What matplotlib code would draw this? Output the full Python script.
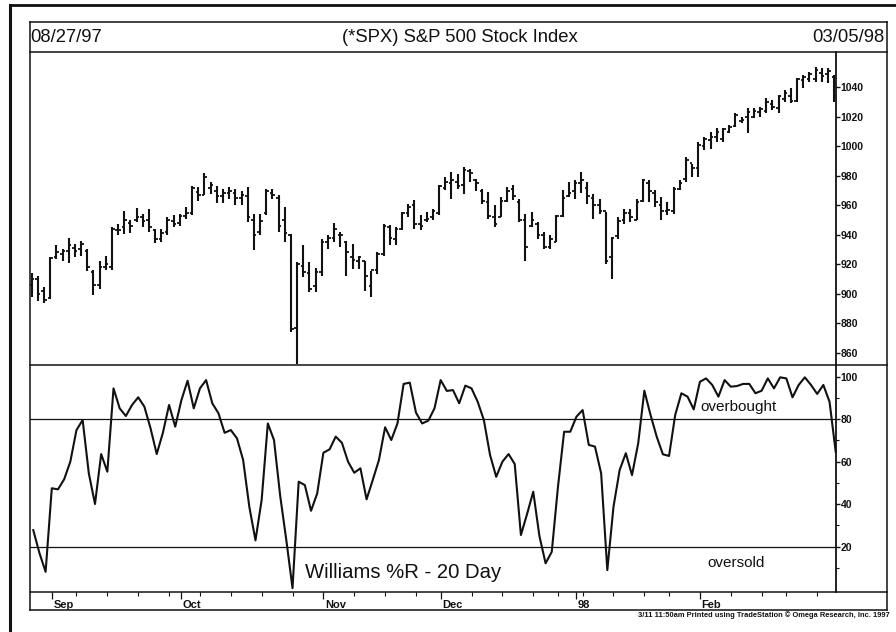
import numpy as np
import pandas as pd
import matplotlib
matplotlib.use("Agg")
import matplotlib.pyplot as plt
from matplotlib.lines import Line2D

plt.rcParams['font.family'] = ['Liberation Sans', 'DejaVu Sans']

# ---- trading calendar -------------------------------------------------------
holidays = ['1997-09-01', '1997-11-27', '1997-12-25',
            '1998-01-01', '1998-01-19', '1998-02-16']
dates = pd.bdate_range('1997-08-27', '1998-03-05', freq='C', holidays=holidays)

# ---- S&P 500 daily bars ------------------------------------------------------
opens = [906, 910, 902, 897, 925, 927, 929, 931, 930, 929,
         915, 906, 918, 918, 943, 945, 948, 950, 952, 950,
         943, 937, 942, 949, 948, 953, 955, 969, 967, 972,
         970, 966, 968, 968, 965, 966, 950, 942, 955, 968,
         965, 950, 940, 877, 919, 914, 905, 915, 935, 938,
         940, 935, 925, 922, 922, 905, 916, 927, 945, 937,
         944, 955, 960, 947, 950, 952, 955, 972, 975, 976,
         974, 983, 977, 970, 962, 952, 952, 963, 971, 962,
         950, 946, 947, 940, 932, 935, 953, 966, 970, 975,
         972, 965, 960, 956, 925, 939, 950, 955, 950, 963,
         975, 968, 960, 956, 956, 971, 978, 989, 985, 1000,
         1004, 1006, 1005, 1010, 1014, 1017, 1020, 1020, 1023, 1024,
         1029, 1026, 1032, 1034, 1031, 1045, 1046, 1046, 1050, 1049,
         1047]
highs = [914, 912.3, 904.3, 924.7, 932.7, 930.4, 938, 933.8, 936, 930.4,
         916.2, 922.5, 925.9, 945.1, 947.5, 956, 950.2, 958.4, 954.3, 957.7,
         944, 944, 952, 953.1, 954.3, 958.8, 973.3, 972.2, 982, 975.8,
         973.4, 971.2, 972.2, 971.2, 970, 972.2, 954.3, 954.3, 971.2, 971.2,
         966.7, 958.8, 940.6, 921.3, 932.7, 921.3, 917.5, 937.2, 939.5, 947.9,
         941.7, 936, 933.8, 925.9, 922.5, 915.7, 928.2, 947.5, 946.3, 945.1,
         955.3, 961, 963.3, 953.1, 955.3, 957.7, 973.5, 979.2, 982.6, 981.5,
         986, 984.9, 978, 971.3, 969, 960, 965.6, 972.4, 973.5, 964.5,
         954.3, 955.3, 948.6, 941.7, 939.5, 953.1, 970.1, 975.8, 977, 982.6,
         975.8, 967.9, 964.5, 955.3, 938.3, 952, 957.7, 957.7, 964.5, 978.1,
         977, 970.1, 965.6, 962.2, 972.4, 977, 992.8, 988.3, 1003, 1006.4,
         1009.8, 1012.1, 1012.1, 1014.4, 1022.3, 1020, 1025.7, 1025.7, 1026.8, 1032.5,
         1031.4, 1034.8, 1038.2, 1039.3, 1046.1, 1048.4, 1050.6, 1054, 1052.9, 1052.9,
         1048.4]
lows = [898, 895.3, 893.4, 896.4, 923.6, 922.5, 920.6, 925.2, 925.9, 915.7,
        899.3, 903.2, 916.2, 916.2, 939.5, 940.6, 941, 948.6, 945.2, 941.8,
        934.3, 934.9, 939.5, 945.2, 945.6, 950.9, 953.1, 963.1, 966.7, 967.9,
        961.2, 961.2, 964.3, 960.1, 960.1, 948.8, 929.3, 939.5, 953.1, 964.3,
        941.8, 935, 873.7, 852.2, 911.1, 900.9, 900.9, 912.3, 930.4, 934.9,
        931.5, 912.3, 916.8, 916.8, 902.1, 897.5, 913.4, 925.9, 932.7, 932.7,
        942.9, 952, 944, 942.9, 948.5, 949.7, 953.1, 970.1, 964.5, 971.3,
        967.9, 975.7, 970, 961, 950.9, 945.2, 952, 962.2, 963.3, 948.6,
        922.5, 945.2, 937.2, 930.4, 930.4, 934.9, 952, 965.6, 964.5, 968,
        961, 951, 954.3, 920.2, 910, 937.2, 947.5, 948.6, 949.7, 962.2,
        962.2, 958.8, 949.7, 953.1, 954.3, 970.1, 975.8, 979.2, 979.2, 997.3,
        998.5, 1003, 1003, 1008.7, 1013.2, 1015.5, 1008.7, 1018.9, 1020, 1022.3,
        1024.6, 1022.3, 1030.2, 1029.1, 1030.2, 1039.3, 1043.8, 1043.8, 1043.8, 1042.7,
        1030.2]
closes = [910, 900, 896, 924, 928, 929, 933, 929, 934, 918,
          906, 918, 920, 944, 943, 950, 946, 952, 949, 945,
          937, 941, 950, 947, 953, 955, 972, 967, 979, 974,
          966, 968, 970, 965, 967, 952, 940, 949, 970, 967,
          946, 941, 876, 920, 915, 903, 915, 935, 938, 944,
          940, 928, 923, 925, 912, 916, 927, 946, 938, 944,
          955, 959, 947, 946, 951, 956, 973, 976, 977, 973,
          984, 982, 975, 963, 953, 947, 963, 970, 966, 950,
          932, 950, 940, 932, 937, 953, 965, 968, 975, 977,
          966, 960, 956, 922, 938, 949, 955, 952, 962, 977,
          970, 962, 956, 957, 971, 975, 991, 985, 1001, 1005,
          1006, 1010, 1012, 1013, 1021, 1018, 1023, 1024, 1025, 1030,
          1027, 1034, 1036, 1031, 1046, 1047, 1049, 1052, 1048, 1051,
          1034]

# ---- Williams %R (20 day) ----------------------------------------------------
williams_r = [27.8, 17, 8.2, 47.5, 47, 51.7, 60, 74.9, 79.6, 54.5,
              40.1, 63.6, 55.3, 94.5, 85.1, 81.5, 86.7, 90.3, 85.9, 75.7,
              63.6, 73.6, 86.7, 76.5, 89, 98.1, 85.1, 94.5, 98.4, 87.5,
              82.8, 73.6, 74.9, 71, 60.8, 38.8, 23, 42, 78, 70.2,
              44, 23, 0.5, 50.6, 49, 36.9, 45.1, 64.2, 65.8, 71.8,
              68.9, 60, 54.8, 56.9, 42.3, 51.4, 60.8, 76.2, 70.2, 78,
              96.6, 97.2, 83.1, 78, 79.3, 85.1, 98.4, 93.3, 93.7, 87.5,
              95.8, 94.5, 88.2, 79.6, 63.2, 52.9, 60, 63.6, 58.9, 25.5,
              35.4, 45.9, 25, 12.2, 17.6, 48, 74.1, 74.1, 81.2, 84.3,
              67.9, 67.1, 54.5, 9, 38.8, 56.1, 64, 53.7, 68.6, 93.4,
              82, 71.8, 63.5, 62.7, 82, 92.2, 90.6, 84.6, 97.6, 99.2,
              96.1, 90.6, 98.4, 95.3, 95.6, 96.6, 96.6, 92.2, 93.4, 99.2,
              94.5, 99.7, 99.2, 90.3, 96.1, 99.7, 96.1, 91.9, 96.1, 88.2,
              64.7]

overbought_level = 80
oversold_level = 20
price_ticks = [860, 880, 900, 920, 940, 960, 980, 1000, 1020, 1040]
wr_ticks = [20, 40, 60, 80, 100]
wr_minor_ticks = [10, 30, 50, 70, 90]
month_labels = {9: 'Sep', 10: 'Oct', 11: 'Nov', 12: 'Dec', 1: '98', 2: 'Feb'}

x = np.arange(len(dates))

# ---- figure / layout (pixel based) ------------------------------------------
W, H = 896, 632
fig = plt.figure(figsize=(W / 100, H / 100), dpi=100)
fig.patch.set_facecolor('white')


def fx(px):
    return px / W


def fy(py):
    return 1 - py / H


L, R = 30, 835.7
T_TITLE, T_PRICE, T_WR, T_DATE, B_DATE = 22, 52, 365, 592, 610
FRAME_R = 887

ax_p = fig.add_axes([fx(L), fy(T_WR), fx(R) - fx(L), fy(T_PRICE) - fy(T_WR)])
ax_w = fig.add_axes([fx(L), fy(T_DATE), fx(R) - fx(L), fy(T_WR) - fy(T_DATE)])
ax_d = fig.add_axes([fx(L), fy(B_DATE), fx(R) - fx(L), fy(T_DATE) - fy(B_DATE)])

for ax in (ax_p, ax_w, ax_d):
    for s in ax.spines.values():
        s.set_visible(False)
    ax.set_facecolor('none')
    ax.set_xticks([])

# ---- price bars --------------------------------------------------------------
ink = '#111111'
tick_len = 0.42
ax_p.vlines(x, lows, highs, color=ink, lw=1.5)
ax_p.hlines(opens, x - tick_len, x, color=ink, lw=1.3)
ax_p.hlines(closes, x, x + tick_len, color=ink, lw=1.3)
ax_p.set_xlim(-0.27, 130.26)
ax_p.set_ylim(851.6, 1064)
ax_p.yaxis.tick_right()
ax_p.set_yticks(price_ticks)
ax_p.set_yticklabels([str(v) for v in price_ticks], fontsize=7.5, fontweight='bold')
ax_p.tick_params(axis='y', direction='out', length=3, width=1, pad=0.5, colors=ink)

# ---- Williams %R -------------------------------------------------------------
ax_w.plot(x, williams_r, color=ink, lw=1.5, clip_on=False)
ax_w.axhline(overbought_level, color=ink, lw=0.9)
ax_w.axhline(oversold_level, color=ink, lw=0.9)
ax_w.set_xlim(-0.53, 130.0)
ax_w.set_ylim(-1.3, 105.5)
ax_w.yaxis.tick_right()
ax_w.set_yticks(wr_ticks)
ax_w.set_yticklabels([str(v) for v in wr_ticks], fontsize=7.5, fontweight='bold')
ax_w.set_yticks(wr_minor_ticks, minor=True)
ax_w.tick_params(axis='y', which='major', direction='out', length=3, width=1, pad=0.5, colors=ink)
ax_w.tick_params(axis='y', which='minor', direction='out', length=2, width=0.8, colors=ink)

# ---- date strip ---------------------------------------------------------------
ax_d.set_xlim(-0.53, 130.0)
ax_d.set_ylim(0, 1)
ax_d.set_yticks([])
month_idx = [i for i in range(1, len(dates)) if dates[i].month != dates[i - 1].month]
week_idx = [i for i in range(1, len(dates)) if dates[i].weekday() < dates[i - 1].weekday()]
for i in month_idx:
    if dates[i].month in month_labels:
        ax_d.vlines(i, 0.6, 1, color=ink, lw=0.9)
        ax_d.text(i + 0.25, 0.12, month_labels[dates[i].month], fontsize=8,
                  fontweight='bold', ha='left', va='baseline', color=ink)
for i in week_idx:
    if i not in month_idx or dates[i].month not in month_labels:
        ax_d.vlines(i, 0.78, 1, color=ink, lw=0.8)

# ---- frame lines --------------------------------------------------------------
def hline(py, x0, x1, lw=1.1):
    fig.add_artist(Line2D([fx(x0), fx(x1)], [fy(py), fy(py)], color=ink, lw=lw))


def vline(px, y0, y1, lw=1.1):
    fig.add_artist(Line2D([fx(px), fx(px)], [fy(y0), fy(y1)], color=ink, lw=lw))


# outer border
hline(5, 10, 896, lw=2.0)
vline(10, 5, 632, lw=2.2)
# inner frame
hline(T_TITLE, L, FRAME_R)
hline(B_DATE, L, FRAME_R)
vline(L, T_TITLE, B_DATE)
vline(FRAME_R, T_TITLE, B_DATE)
for py in (T_PRICE, T_WR, T_DATE):
    hline(py, L, FRAME_R)
vline(R, T_PRICE, T_DATE, lw=1.3)

# ---- text ---------------------------------------------------------------------
title_y = fy(37.5)
fig.text(fx(30), title_y, '08/27/97', fontsize=13.3, ha='left', va='center', color=ink)
fig.text(fx(459.7), title_y, '(*SPX) S&P 500 Stock Index', fontsize=13.3,
         ha='center', va='center', color=ink)
fig.text(fx(884), title_y, '03/05/98', fontsize=13.3, ha='right', va='center', color=ink)

fig.text(fx(700), fy(407), 'overbought', fontsize=11, ha='left', va='center', color=ink)
fig.text(fx(707), fy(563), 'oversold', fontsize=11, ha='left', va='center', color=ink)
fig.text(fx(305), fy(572), 'Williams %R - 20 Day', fontsize=14.6, ha='left',
         va='center', color=ink)
fig.text(fx(890), fy(617), '3/11 11:50am Printed using TradeStation \u00a9 Omega Research, Inc. 1997',
         fontsize=5.4, fontweight='bold', ha='right', va='baseline', color=ink)

fig.savefig('out.png', dpi=100, facecolor='white')
